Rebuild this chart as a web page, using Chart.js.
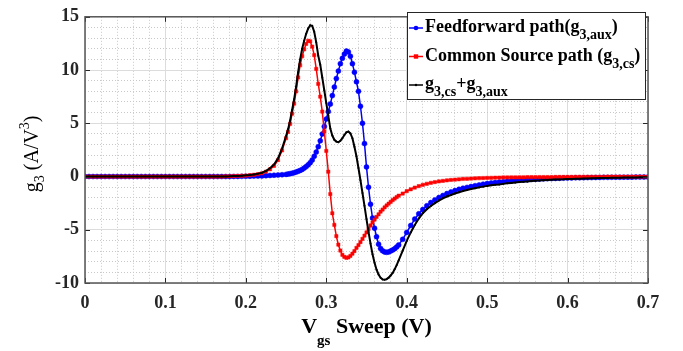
<!DOCTYPE html>
<html>
<head>
<meta charset="utf-8">
<script src="https://cdn.jsdelivr.net/npm/chart.js@4.4.0/dist/chart.umd.min.js"></script>
<style>
  html, body { margin: 0; padding: 0; background: #fff; }
  #g3-chart { display: block; }
</style>
</head>
<body>
<canvas id="g3-chart" width="683" height="351"></canvas>
<script>
// Vgs sweep points (V)
const vgs = [
  0, 0.005, 0.01, 0.015, 0.02, 0.025, 0.03, 0.035, 0.04, 0.045,
  0.05, 0.055, 0.06, 0.065, 0.07, 0.075, 0.08, 0.085, 0.09, 0.095,
  0.1, 0.105, 0.11, 0.115, 0.12, 0.125, 0.13, 0.135, 0.14, 0.145,
  0.15, 0.155, 0.16, 0.165, 0.17, 0.175, 0.18, 0.185, 0.19, 0.195,
  0.2, 0.205, 0.21, 0.215, 0.22, 0.225, 0.23, 0.235, 0.24, 0.245,
  0.25, 0.2525, 0.255, 0.2575, 0.26, 0.2625, 0.265, 0.2675, 0.27, 0.2725,
  0.275, 0.2775, 0.28, 0.2825, 0.285, 0.2875, 0.29, 0.2925, 0.295, 0.2975,
  0.3, 0.3025, 0.305, 0.3075, 0.31, 0.3125, 0.315, 0.3175, 0.32, 0.3225,
  0.325, 0.3275, 0.33, 0.3325, 0.335, 0.3375, 0.34, 0.3425, 0.345, 0.3475,
  0.35, 0.3525, 0.355, 0.3575, 0.36, 0.3625, 0.365, 0.3675, 0.37, 0.3725,
  0.375, 0.3775, 0.38, 0.3825, 0.385, 0.3875, 0.39,
  0.395, 0.4, 0.405, 0.41, 0.415, 0.42, 0.425, 0.43, 0.435, 0.44,
  0.445, 0.45, 0.455, 0.46, 0.465, 0.47, 0.475, 0.48, 0.485, 0.49,
  0.495, 0.5, 0.505, 0.51, 0.515, 0.52, 0.525, 0.53, 0.535, 0.54,
  0.545, 0.55, 0.555, 0.56, 0.565, 0.57, 0.575, 0.58, 0.585, 0.59,
  0.595, 0.6, 0.605, 0.61, 0.615, 0.62, 0.625, 0.63, 0.635, 0.64,
  0.645, 0.65, 0.655, 0.66, 0.665, 0.67, 0.675, 0.68, 0.685, 0.69,
  0.695, 0.7
];

// Feedforward path g3,aux
const gAux = [
  0, 0, 0, 0, 0, 0, 0, 0, 0, 0,
  0, 0, 0, 0, 0, 0, 0, 0, 0, 0,
  0, 0, 0, 0, 0, 0, 0, 0, 0, 0,
  0, 0, 0, 0, 0, 0, 0, 0.01, 0.01, 0.015,
  0.02, 0.03, 0.04, 0.05, 0.06, 0.08, 0.1, 0.12, 0.14, 0.17,
  0.2, 0.23, 0.27, 0.31, 0.36, 0.42, 0.49, 0.57, 0.67, 0.79,
  0.93, 1.1, 1.3, 1.55, 1.9, 2.3, 2.8, 3.35, 4.0, 4.7,
  5.4, 6.1, 6.8, 7.6, 8.4, 9.2, 9.9, 10.6, 11.1, 11.5,
  11.78, 11.7, 11.3, 10.6, 9.8, 8.9, 8.0, 6.6, 5.0, 3.1,
  0.9, -1.0, -2.6, -3.9, -4.85, -5.65, -6.35, -6.75, -6.98, -7.08,
  -7.12, -7.08, -7.0, -6.9, -6.78, -6.62, -6.42,
  -5.9, -5.25, -4.6, -4.0, -3.5, -3.1, -2.75, -2.45, -2.2, -1.98,
  -1.78, -1.6, -1.45, -1.32, -1.2, -1.1, -1.02, -0.94, -0.86, -0.79,
  -0.72, -0.66, -0.61, -0.56, -0.52, -0.48, -0.44, -0.41, -0.38, -0.35,
  -0.32, -0.3, -0.28, -0.26, -0.24, -0.22, -0.2, -0.19, -0.18, -0.16,
  -0.15, -0.14, -0.13, -0.12, -0.12, -0.11, -0.1, -0.1, -0.09, -0.09,
  -0.08, -0.08, -0.07, -0.07, -0.07, -0.06, -0.06, -0.06, -0.05, -0.05,
  -0.05, -0.05
];

// Common source path g3,cs
const gCs = [
  0, 0, 0, 0, 0, 0, 0, 0, 0, 0,
  0, 0, 0, 0, 0, 0, 0, 0, 0, 0,
  0, 0, 0, 0, 0, 0, 0, 0, 0, 0,
  0, 0, 0, 0, 0, 0.01, 0.02, 0.03, 0.05, 0.07,
  0.09, 0.12, 0.16, 0.22, 0.3, 0.45, 0.68, 1.0, 1.55, 2.45,
  3.6, 4.2, 4.95, 5.9, 6.85, 8.0, 9.3, 10.45, 11.3, 11.95,
  12.45, 12.75, 12.7, 12.2, 11.4, 10.1, 8.7, 7.5, 6.1, 4.25,
  2.4, 0.45, -1.65, -3.45, -4.55, -5.6, -6.4, -6.95, -7.35, -7.55,
  -7.63, -7.6, -7.45, -7.25, -7.0, -6.7, -6.45, -6.15, -5.85, -5.55,
  -5.25, -4.95, -4.6, -4.3, -4.05, -3.8, -3.55, -3.3, -3.1, -2.9,
  -2.72, -2.55, -2.38, -2.22, -2.07, -1.93, -1.8,
  -1.6, -1.38, -1.2, -1.04, -0.9, -0.78, -0.68, -0.59, -0.52, -0.46,
  -0.41, -0.36, -0.32, -0.29, -0.26, -0.23, -0.21, -0.19, -0.17, -0.16,
  -0.14, -0.13, -0.12, -0.11, -0.1, -0.09, -0.09, -0.08, -0.08, -0.07,
  -0.07, -0.06, -0.06, -0.06, -0.05, -0.05, -0.05, -0.05, -0.04, -0.04,
  -0.04, -0.04, -0.04, -0.03, -0.03, -0.03, -0.03, -0.03, -0.03, -0.03,
  -0.03, -0.02, -0.02, -0.02, -0.02, -0.02, -0.02, -0.02, -0.02, -0.02,
  -0.02, -0.02
];

// g3,cs + g3,aux
const gSum = [
  0, 0, 0, 0, 0, 0, 0, 0, 0, 0,
  0, 0, 0, 0, 0, 0, 0, 0, 0, 0,
  0, 0, 0, 0, 0, 0, 0, 0, 0, 0,
  0, 0, 0, 0, 0, 0.01, 0.02, 0.04, 0.06, 0.08,
  0.11, 0.15, 0.2, 0.27, 0.36, 0.53, 0.78, 1.12, 1.7, 2.62,
  3.8, 4.45, 5.25, 6.25, 7.25, 8.45, 9.8, 11.0, 12.0, 12.75,
  13.4, 13.9, 14.2, 14.15, 13.6, 12.6, 11.35, 10.5, 9.3, 8.1,
  6.9, 5.7, 4.5, 3.85, 3.45, 3.28, 3.22, 3.35, 3.6, 3.9,
  4.15, 4.22, 4.05, 3.6, 2.8, 1.9, 0.8, -0.35, -1.55, -2.75,
  -4.0, -5.2, -6.3, -7.3, -8.1, -8.75, -9.2, -9.5, -9.66, -9.7,
  -9.64, -9.5, -9.3, -9.05, -8.72, -8.32, -7.88,
  -6.95, -6.05, -5.25, -4.55, -3.95, -3.45, -3.08, -2.77, -2.5, -2.26,
  -2.05, -1.88, -1.74, -1.6, -1.48, -1.36, -1.27, -1.18, -1.1, -1.02,
  -0.95, -0.88, -0.82, -0.78, -0.74, -0.69, -0.64, -0.6, -0.56, -0.52,
  -0.49, -0.46, -0.43, -0.4, -0.38, -0.35, -0.33, -0.31, -0.29, -0.27,
  -0.26, -0.24, -0.23, -0.21, -0.2, -0.19, -0.18, -0.17, -0.16, -0.15,
  -0.14, -0.13, -0.12, -0.11, -0.11, -0.1, -0.1, -0.09, -0.09, -0.08,
  -0.08, -0.07
];

const xTicks = [0, 0.1, 0.2, 0.3, 0.4, 0.5, 0.6, 0.7];
const yTicks = [-10, -5, 0, 5, 10, 15];

const serif = "'Liberation Serif', 'Times New Roman', serif";
const axisInk = "#262626";

function findTick(list, v) {
  return list.find((k) => Math.abs(k - v) < 1e-6);
}
function majorX(c) {
  return !c.tick || findTick(xTicks, c.tick.value) !== undefined;
}
function majorY(c) {
  return !c.tick || findTick(yTicks, c.tick.value) !== undefined;
}

function points(ys) {
  return vgs.map((x, i) => ({ x: x, y: ys[i] }));
}

// draws text pieces one after another, sub pieces smaller and lower
function drawRich(ctx, parts, x, y, size, subSize, subDrop, weight) {
  let cx = x;
  parts.forEach(([txt, sub]) => {
    ctx.font = weight + " " + (sub ? subSize : size) + "px " + serif;
    ctx.fillText(txt, cx, y + (sub ? subDrop : 0));
    cx += ctx.measureText(txt).width;
  });
  return cx;
}
function richWidth(ctx, parts, size, subSize, weight) {
  let w = 0;
  parts.forEach(([txt, sub]) => {
    ctx.font = weight + " " + (sub ? subSize : size) + "px " + serif;
    w += ctx.measureText(txt).width;
  });
  return w;
}

const legendItems = [
  { color: "#0000ff", shape: "circle", r: 2.3, parts: [["Feedforward path(g", 0], ["3,aux", 1], [")", 0]] },
  { color: "#ff0000", shape: "rect", r: 2.2, parts: [["Common Source path (g", 0], ["3,cs", 1], [")", 0]] },
  { color: "#000000", shape: "circle", r: 1.2, parts: [["g", 0], ["3,cs", 1], ["+g", 0], ["3,aux", 1]] },
];

const decorations = {
  id: "decorations",
  afterDraw(chart) {
    const ctx = chart.ctx;
    const a = chart.chartArea;
    const xs = chart.scales.x;
    const ys = chart.scales.y;
    ctx.save();

    // inward tick marks
    ctx.strokeStyle = axisInk;
    ctx.lineWidth = 1;
    ctx.beginPath();
    xTicks.forEach((t) => {
      const px = Math.round(xs.getPixelForValue(t)) + 0.5;
      ctx.moveTo(px, a.bottom); ctx.lineTo(px, a.bottom - 5);
      ctx.moveTo(px, a.top); ctx.lineTo(px, a.top + 5);
    });
    yTicks.forEach((t) => {
      const py = Math.round(ys.getPixelForValue(t)) + 0.5;
      ctx.moveTo(a.left, py); ctx.lineTo(a.left + 5, py);
      ctx.moveTo(a.right, py); ctx.lineTo(a.right - 5, py);
    });
    ctx.stroke();

    // box
    ctx.strokeStyle = "#555555";
    ctx.lineWidth = 1.5;
    ctx.strokeRect(a.left, a.top, a.right - a.left, a.bottom - a.top);

    // legend
    const lx = 407, ly = 12, lw = 238, lh = 87;
    ctx.fillStyle = "#ffffff";
    ctx.fillRect(lx, ly, lw, lh);
    ctx.strokeStyle = axisInk;
    ctx.lineWidth = 1;
    ctx.strokeRect(lx + 0.5, ly + 0.5, lw, lh);
    ctx.textBaseline = "alphabetic";
    ctx.textAlign = "left";
    legendItems.forEach((it, i) => {
      const base = 32 + i * 28.5;
      const my = base - 4;
      ctx.strokeStyle = it.color;
      ctx.fillStyle = it.color;
      ctx.lineWidth = 1.5;
      ctx.beginPath();
      ctx.moveTo(409, my); ctx.lineTo(423, my);
      ctx.stroke();
      ctx.beginPath();
      if (it.shape === "rect") {
        ctx.rect(416 - it.r, my - it.r, it.r * 2, it.r * 2);
      } else {
        ctx.arc(416, my, it.r, 0, Math.PI * 2);
      }
      ctx.fill();
      ctx.fillStyle = "#000000";
      drawRich(ctx, it.parts, 425, base, 18, 14, 7, "bold");
    });

    // x title
    ctx.fillStyle = "#000000";
    const xParts = [["V", 0], ["gs", 1], [" Sweep (V)", 0]];
    const xw = richWidth(ctx, xParts, 22, 15, "bold");
    drawRich(ctx, xParts, (a.left + a.right) / 2 - xw / 2, 333, 22, 15, 12, "bold");

    // y title
    ctx.translate(38, (a.top + a.bottom) / 2 + 4);
    ctx.rotate(-Math.PI / 2);
    const yParts = [["g", 0], ["3", 1], [" (A/V", 0], ["3", 2], [")", 0]];
    let cx = -richWidth(ctx, yParts, 20, 14, "normal") / 2;
    yParts.forEach(([txt, kind]) => {
      ctx.font = "normal " + (kind ? 14 : 20) + "px " + serif;
      const dy = kind === 1 ? 6 : kind === 2 ? -9 : 0;
      ctx.fillText(txt, cx, dy);
      cx += ctx.measureText(txt).width;
    });
    ctx.restore();
  },
};

const g3Chart = document.getElementById("g3-chart");
const g3ChartContext = g3Chart.getContext("2d");

new Chart(g3ChartContext, {
  type: "line",
  data: {
    datasets: [
      {
        label: "Feedforward path(g3,aux)",
        data: points(gAux),
        borderColor: "#0000ff",
        backgroundColor: "#0000ff",
        borderWidth: 1.5,
        pointStyle: "circle",
        pointRadius: 2.5,
        pointBorderWidth: 0.5,
        tension: 0,
        order: 3,
      },
      {
        label: "Common Source path (g3,cs)",
        data: points(gCs),
        borderColor: "#ff0000",
        backgroundColor: "#ff0000",
        borderWidth: 1.5,
        pointStyle: "rect",
        pointRadius: 2.3,
        pointBorderWidth: 0.5,
        tension: 0,
        order: 2,
      },
      {
        label: "g3,cs+g3,aux",
        data: points(gSum),
        borderColor: "#000000",
        backgroundColor: "#000000",
        borderWidth: 2,
        pointRadius: 1,
        pointBorderWidth: 0,
        tension: 0,
        order: 1,
      },
    ],
  },
  options: {
    responsive: false,
    animation: false,
    devicePixelRatio: 1,
    layout: { padding: { top: 9, right: 35, left: 0, bottom: 0 } },
    plugins: {
      legend: { display: false },
      tooltip: { enabled: false },
    },
    scales: {
      x: {
        type: "linear",
        min: 0,
        max: 0.7,
        afterFit: (s) => { s.height = 68; },
        border: { display: false, dash: (c) => (majorX(c) ? [] : [1, 2]) },
        grid: {
          drawTicks: false,
          color: (c) => (majorX(c) ? "#dcdcdc" : "#c8c8c8"),
          lineWidth: 1,
        },
        ticks: {
          stepSize: 0.02,
          autoSkip: false,
          maxRotation: 0,
          padding: 10,
          color: axisInk,
          font: { family: serif, size: 18, weight: "bold" },
          callback: (v) => {
            const t = findTick(xTicks, v);
            return t === undefined ? "" : String(t);
          },
        },
      },
      y: {
        min: -10,
        max: 15,
        afterFit: (s) => { s.width = 85; },
        border: { display: false, dash: (c) => (majorY(c) ? [] : [1, 2]) },
        grid: {
          drawTicks: false,
          color: (c) => (majorY(c) ? "#dcdcdc" : "#c8c8c8"),
          lineWidth: 1,
        },
        ticks: {
          stepSize: 1,
          autoSkip: false,
          padding: 6,
          color: axisInk,
          font: { family: serif, size: 18, weight: "bold" },
          callback: (v) => {
            const t = findTick(yTicks, v);
            return t === undefined ? "" : String(t);
          },
        },
      },
    },
  },
  plugins: [decorations],
});
</script>
</body>
</html>
